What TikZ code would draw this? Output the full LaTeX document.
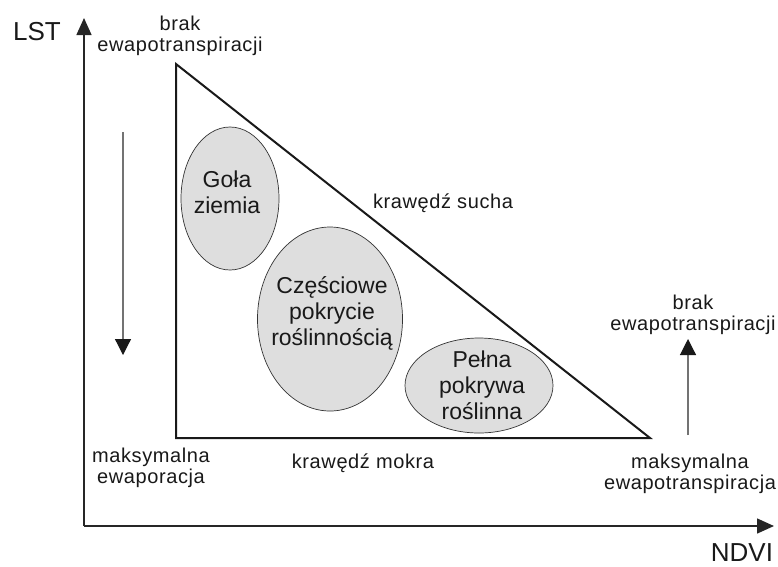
\documentclass[tikz,border=0pt]{standalone}
\usepackage{fontspec}
\setmainfont{Liberation Sans}
\newfontfamily\lblfont[LetterSpace=3]{Liberation Sans}
\usetikzlibrary{arrows.meta,shapes.geometric}
\definecolor{blobfill}{HTML}{DEDEDE}
\begin{document}
\begin{tikzpicture}[x=1pt,y=-1pt,
  lbl/.style={font=\lblfont\fontsize{20}{21}\selectfont, align=center, inner sep=0pt, text=black!90},
  big/.style={font=\fontsize{23}{26}\selectfont, align=center, inner sep=0pt, text=black!90},
  axlbl/.style={font=\fontsize{26}{28}\selectfont, inner sep=0pt, text=black!90},
  ax/.style={draw=black!85, line width=1.5pt, -{Triangle[length=17pt,width=15pt]}},
  grayarrow/.style={draw=black!55, line width=1.2pt, -{Triangle[length=16pt,width=16pt,color=black!90]}},
  blob/.style={ellipse, draw=black!80, line width=0.7pt, fill=blobfill, inner sep=0pt},
  edge/.style={draw=black!90, line width=2pt, line join=miter}
]
\useasboundingbox (0,0) rectangle (778,566);
% axes
\coordinate (O) at (84,526);
\coordinate (ytip) at (84,18);
\coordinate (xtip) at (774,526);
\draw[ax] (O) -- (ytip);
\draw[ax] (O) -- (xtip);
\node[axlbl] (lst) at (37,32) {LST};
\node[axlbl, anchor=north] (ndvi) at (742,543) {NDVI};
% ellipses
\node[blob, minimum width=98pt, minimum height=143pt] (e1) at (230,198.5) {};
\node[blob, minimum width=145pt, minimum height=184pt] (e2) at (330,319) {};
\node[blob, minimum width=148pt, minimum height=95pt] (e3) at (479,385.5) {};
% triangle
\coordinate (A) at (176,64);
\coordinate (B) at (176,438);
\coordinate (C) at (650,438);
\draw[edge] (A) -- (B) -- (C) -- cycle;
% ellipse texts
\node[big] (t1) at (227,192) {Goła\\ziemia};
\node[big] (t2) at (332,313) {Częściowe\\pokrycie\\roślinnością};
\node[big] (t3) at (482,385) {Pełna\\pokrywa\\roślinna};
% labels
\node[lbl] (topl) at (180,35.5) {brak\\ewapotranspiracji};
\node[lbl] (rtop) at (693,315) {brak\\ewapotranspiracji};
\node[lbl] (rbot) at (690,474) {maksymalna\\ewapotranspiracja};
\node[lbl] (lbot) at (151,468) {maksymalna\\ewaporacja};
\node[lbl] (sucha) at (443,203) {krawędź sucha};
\node[lbl] (mokra) at (363,463) {krawędź mokra};
% gray arrows
\coordinate (d1) at (123,132);
\coordinate (d2) at (123,355);
\draw[grayarrow] (d1) -- (d2);
\coordinate (u1) at (688,435);
\coordinate (u2) at (688,339);
\draw[grayarrow] (u1) -- (u2);
\end{tikzpicture}
\end{document}
